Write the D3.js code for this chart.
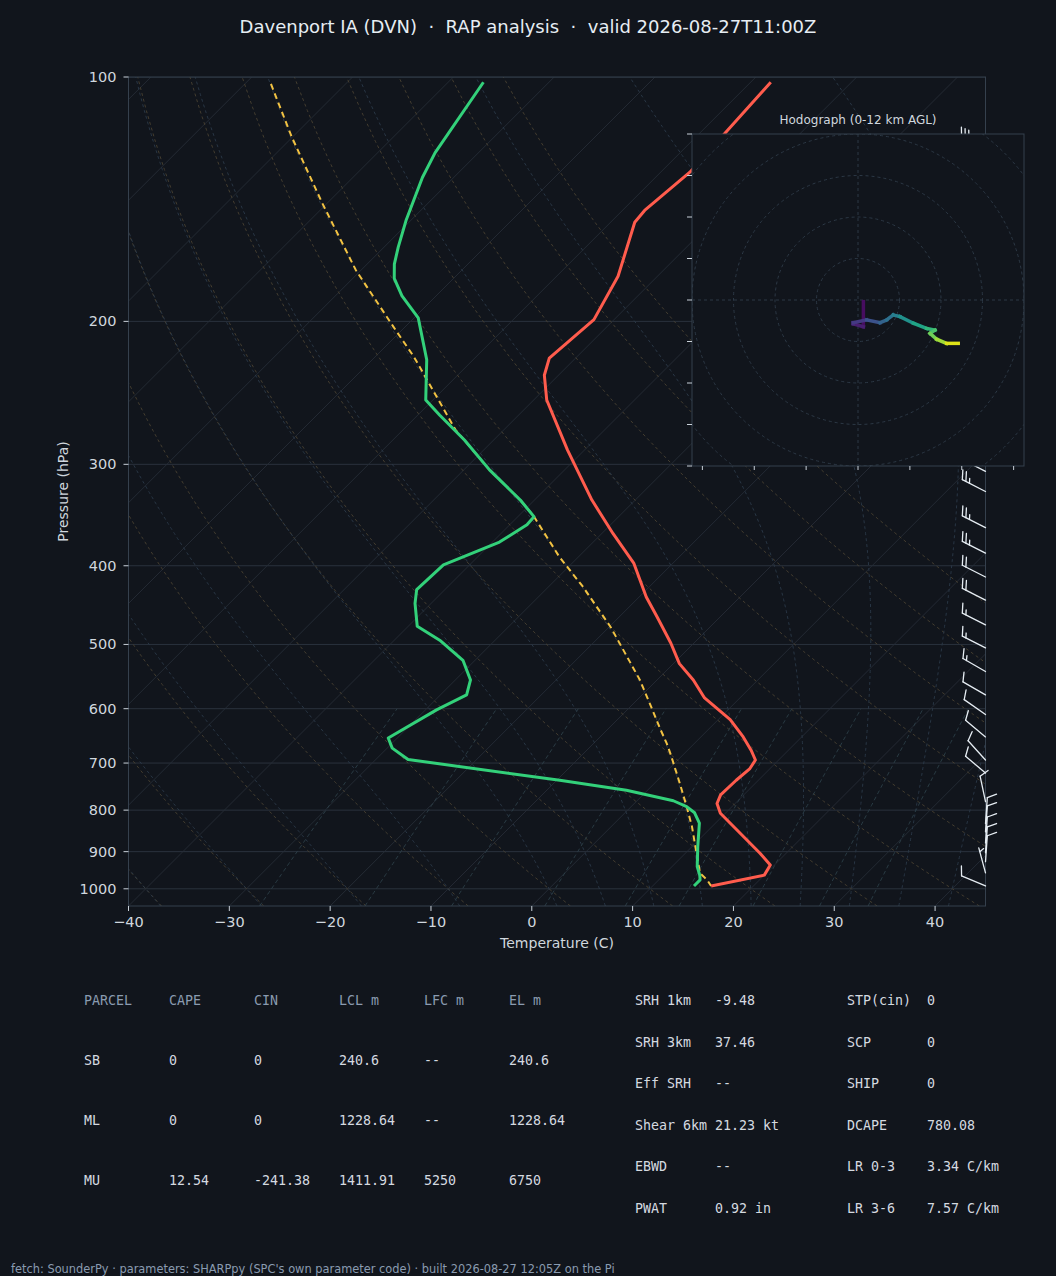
<!DOCTYPE html>
<html>
<head>
<meta charset="utf-8">
<script src="https://cdn.jsdelivr.net/npm/d3@7"></script>
<style>
html, body { margin: 0; padding: 0; background: #11151c; }
svg { display: block; }
text { font-family: "DejaVu Sans", sans-serif; }
.mono { font-family: "DejaVu Sans Mono", monospace; }
</style>
</head>
<body>
<script>
var w = 1056;
var h = 1276;

// temperature profile (hPa, C)
var tempP = [101.5, 131, 146, 151, 176, 199, 222, 233, 250, 288, 332, 365, 397, 437, 462, 498, 528, 553, 582, 619, 650, 675, 694, 711, 735, 766, 785, 807, 904, 935, 962, 992];
var tempC = [-58.0, -57.1, -57.8, -57.6, -53.9, -52.0, -52.6, -51.4, -48.7, -41.7, -34.3, -28.9, -23.9, -19.3, -16.3, -12.3, -9.4, -6.4, -3.5, 1.2, 4.2, 6.3, 7.7, 8.0, 7.8, 7.7, 8.2, 9.5, 17.4, 19.6, 20.0, 15.8];

// dewpoint profile
var dewP = [101.5, 124, 133, 150, 162, 170, 177, 186, 198, 223, 250, 261, 280, 305, 332, 348, 356, 374, 399, 428, 445, 475, 494, 523, 553, 577, 602, 652, 671, 693, 735, 756, 779, 792, 806, 830, 888, 939, 962, 975, 992];
var dewC = [-86.5, -84.3, -83.1, -80.5, -78.6, -77.3, -75.9, -73.4, -69.6, -64.6, -60.7, -57.8, -52.9, -47.4, -41.4, -38.4, -38.3, -39.3, -42.6, -42.8, -41.6, -39.1, -35.5, -31.2, -28.5, -27.4, -28.9, -30.9, -29.5, -26.8, -9.7, -2.1, 3.6, 5.5, 6.9, 8.4, 10.6, 12.5, 13.6, 14.1, 14.1];

// surface parcel path
var parcelP = [102, 118.5, 143, 173, 203, 221, 272, 305, 332, 348, 390, 424.5, 475.5, 533, 553, 597, 637, 662, 681, 738, 792, 838, 904, 957, 975, 992];
var parcelC = [-107.4, -100.1, -90.5, -80.5, -71.2, -66.2, -54.8, -47.4, -41.4, -38.4, -31.9, -26.6, -19.9, -13.7, -11.7, -7.9, -4.7, -2.75, -1.4, 2.3, 5.5, 8.0, 11.1, 13.45, 14.8, 15.8];

// wind barbs (hPa, direction deg, speed kt)
var barbP = [992, 956, 926, 903, 878, 851, 831, 781, 720, 694, 650, 610, 577, 540, 505, 473, 441, 413, 386, 359, 324, 306, 290, 271, 254, 238, 222, 208, 194, 182, 170, 159, 149, 139, 130, 122];
var barbDir = [293, 345, 4, 4, 4, 4, 4, 348, 310, 318, 310, 305, 300, 300, 297, 297, 297, 297, 297, 297, 297, 297, 296, 296, 295, 295, 295, 295, 294, 294, 294, 294, 293, 293, 293, 293];
var barbSpd = [10, 5, 10, 10, 10, 10, 10, 10, 10, 10, 10, 10, 10, 15, 15, 15, 20, 20, 25, 25, 25, 25, 25, 30, 30, 30, 30, 30, 30, 30, 30, 30, 30, 30, 30, 30];

// hodograph (kt, height km AGL)
var hodoU = [2.6, 2.6, -2.3, -2.3, 4.2, 10.6, 13.8, 17.0, 20.2, 26.7, 33.1, 37.1, 34.7, 37.9, 42.7, 48.3];
var hodoV = [-0.8, -12.9, -11.5, -10.9, -9.6, -10.9, -9.6, -7.2, -8.0, -11.2, -13.7, -14.5, -16.1, -18.9, -20.9, -20.9];
var hodoZ = [0, 0.8, 1.2, 1.5, 2.5, 3.5, 4.0, 4.8, 5.5, 6.5, 7.5, 8.3, 9.0, 9.8, 10.8, 12];

var pressureTicks = [100, 200, 300, 400, 500, 600, 700, 800, 900, 1000];
var tempTicks = [-40, -30, -20, -10, 0, 10, 20, 30, 40];

// parameter tables
var tableHead = ["PARCEL", "CAPE", "CIN", "LCL m", "LFC m", "EL m"];
var parcelNames = ["SB", "ML", "MU"];
var capeVals = ["0", "0", "12.54"];
var cinVals = ["0", "0", "-241.38"];
var lclVals = ["240.6", "1228.64", "1411.91"];
var lfcVals = ["--", "--", "5250"];
var elVals = ["240.6", "1228.64", "6750"];
var kinLabels = ["SRH 1km", "SRH 3km", "Eff SRH", "Shear 6km", "EBWD", "PWAT"];
var kinValues = ["-9.48", "37.46", "--", "21.23 kt", "--", "0.92 in"];
var idxLabels = ["STP(cin)", "SCP", "SHIP", "DCAPE", "LR 0-3", "LR 3-6"];
var idxValues = ["0", "0", "0", "780.08", "3.34 C/km", "7.57 C/km"];

var bg = "#11151c";
var pLeft = 128.5, pRight = 985.5, pTop = 77, pBottom = 906;

var svg = d3.select("body").append("svg").attr("width", w).attr("height", h);
svg.append("rect").attr("width", w).attr("height", h).attr("fill", bg);

var xT = d3.scaleLinear().domain([-40, 45]).range([pLeft, pRight]);
var yP = d3.scaleLog().domain([1050, 100]).range([pBottom, pTop]);
// 45 degree skew
function sx(t, p) { return xT(t) + (pBottom - yP(p)); }

svg.append("clipPath").attr("id", "plotclip")
  .append("rect").attr("x", pLeft).attr("y", pTop).attr("width", pRight - pLeft).attr("height", pBottom - pTop);

var plot = svg.append("g").attr("clip-path", "url(#plotclip)");

var skewLine = d3.line().x(function (d) { return sx(d[1], d[0]); }).y(function (d) { return yP(d[0]); });

// isobars
plot.selectAll(".isobar").data(pressureTicks).enter().append("line")
  .attr("x1", pLeft).attr("x2", pRight)
  .attr("y1", function (d) { return yP(d); }).attr("y2", function (d) { return yP(d); })
  .attr("stroke", "#2a323d").attr("stroke-width", 1);

// isotherms
plot.selectAll(".isotherm").data(d3.range(-160, 50, 10)).enter().append("line")
  .attr("x1", function (d) { return sx(d, 1050); }).attr("y1", pBottom)
  .attr("x2", function (d) { return sx(d, 100); }).attr("y2", pTop)
  .attr("stroke", "#262d37").attr("stroke-width", 0.9);

var levels = d3.range(1050, 99, -10);

// dry adiabats
d3.range(-40, 91, 10).forEach(function (t0) {
  var pts = levels.map(function (p) { return [p, (t0 + 273.15) * Math.pow(p / 1000, 0.2857) - 273.15]; });
  plot.append("path").attr("d", skewLine(pts)).attr("fill", "none")
    .attr("stroke", "#4a4232").attr("stroke-width", 0.9).attr("stroke-dasharray", "3,3");
});

// moist adiabats
var Rd = 287.04749, Cp = 1004.6662, Lv = 2.50084e6, eps = 0.621957;
function esat(tk) { return 6.112 * Math.exp(17.67 * (tk - 273.15) / (tk - 29.65)); }
function moistLapse(p, tk) {
  var es = esat(tk), rs = eps * es / (p - es);
  return (Rd * tk + Lv * rs) / (Cp + Lv * Lv * rs * eps / (Rd * tk * tk)) / p;
}
function integrate(t0, pEnd, dp) {
  var p = 1000, tk = t0 + 273.15, out = [[p, t0]];
  while ((dp < 0 && p > pEnd) || (dp > 0 && p < pEnd)) {
    var k1 = moistLapse(p, tk);
    var k2 = moistLapse(p + dp / 2, tk + k1 * dp / 2);
    var k3 = moistLapse(p + dp / 2, tk + k2 * dp / 2);
    var k4 = moistLapse(p + dp, tk + k3 * dp);
    tk += dp * (k1 + 2 * k2 + 2 * k3 + k4) / 6;
    p += dp;
    out.push([p, tk - 273.15]);
  }
  return out;
}
var moistStarts = d3.range(-40, 0, 10).concat(d3.range(0, 46, 5));
moistStarts.forEach(function (t0) {
  var pts = integrate(t0, 1050, 5).reverse().concat(integrate(t0, 100, -5).slice(1));
  plot.append("path").attr("d", skewLine(pts)).attr("fill", "none")
    .attr("stroke", "#2b3a4a").attr("stroke-width", 0.9).attr("stroke-dasharray", "3,3");
});

// mixing ratio lines (g/kg)
[0.4, 1, 2, 4, 7, 10, 16, 24, 32].forEach(function (wg) {
  var wk = wg / 1000;
  var pts = d3.range(1050, 599, -10).map(function (p) {
    var e = wk * p / (eps + wk), l = Math.log(e / 6.112);
    return [p, 243.5 * l / (17.67 - l)];
  });
  plot.append("path").attr("d", skewLine(pts)).attr("fill", "none")
    .attr("stroke", "#2c4048").attr("stroke-width", 0.9).attr("stroke-dasharray", "4,3");
});

// profiles
var tempData = tempP.map(function (p, i) { return [p, tempC[i]]; });
var dewData = dewP.map(function (p, i) { return [p, dewC[i]]; });
var parcelData = parcelP.map(function (p, i) { return [p, parcelC[i]]; });

plot.append("path").attr("d", skewLine(parcelData)).attr("fill", "none")
  .attr("stroke", "#f2c242").attr("stroke-width", 2).attr("stroke-dasharray", "6,4");
plot.append("path").attr("d", skewLine(tempData)).attr("fill", "none")
  .attr("stroke", "#ff5c4d").attr("stroke-width", 3).attr("stroke-linejoin", "round");
plot.append("path").attr("d", skewLine(dewData)).attr("fill", "none")
  .attr("stroke", "#33d17a").attr("stroke-width", 3).attr("stroke-linejoin", "round");

// frame
svg.append("rect").attr("x", pLeft).attr("y", pTop).attr("width", pRight - pLeft).attr("height", pBottom - pTop)
  .attr("fill", "none").attr("stroke", "#35404d").attr("stroke-width", 1);

// axes
var axes = svg.append("g");
pressureTicks.forEach(function (p) {
  axes.append("line").attr("x1", pLeft - 5).attr("x2", pLeft).attr("y1", yP(p)).attr("y2", yP(p))
    .attr("stroke", "#c9d1d9").attr("stroke-width", 1);
  axes.append("text").attr("x", pLeft - 12).attr("y", yP(p) + 5).attr("text-anchor", "end")
    .attr("font-size", "14.5px").attr("fill", "#d0d7de").text(p);
});
var fmt = d3.format("d");
tempTicks.forEach(function (t) {
  axes.append("line").attr("x1", xT(t)).attr("x2", xT(t)).attr("y1", pBottom).attr("y2", pBottom + 5)
    .attr("stroke", "#c9d1d9").attr("stroke-width", 1);
  axes.append("text").attr("x", xT(t)).attr("y", pBottom + 21).attr("text-anchor", "middle")
    .attr("font-size", "14.5px").attr("fill", "#d0d7de").text(fmt(t));
});
svg.append("text").attr("x", (pLeft + pRight) / 2).attr("y", 948).attr("text-anchor", "middle")
  .attr("font-size", "14px").attr("fill", "#d0d7de").text("Temperature (C)");
svg.append("text").attr("transform", "translate(68," + ((pTop + pBottom) / 2) + ") rotate(-90)")
  .attr("text-anchor", "middle").attr("font-size", "14px").attr("fill", "#d0d7de").text("Pressure (hPa)");

// title
svg.append("text").attr("x", w / 2).attr("y", 33).attr("text-anchor", "middle")
  .attr("font-size", "18px").attr("fill", "#e6edf3").style("white-space", "pre")
  .text("Davenport IA (DVN)  \u00b7  RAP analysis  \u00b7  valid 2026-08-27T11:00Z");

// wind barbs along the right edge
var barbs = svg.append("g").attr("stroke", "#e6edf3").attr("stroke-width", 1.3)
  .attr("fill", "none").attr("stroke-linecap", "round");
barbP.forEach(function (p, i) {
  var d = barbDir[i] * Math.PI / 180;
  var spd = Math.round(barbSpd[i] / 5) * 5;
  var bx = pRight, by = yP(p);
  var ux = Math.sin(d), uy = -Math.cos(d); // staff direction (screen)
  var px = Math.cos(d), py = Math.sin(d);  // barb side
  var L = 26;
  var tx = bx + L * ux, ty = by + L * uy;
  barbs.append("line").attr("x1", bx).attr("y1", by).attr("x2", tx).attr("y2", ty);
  var full = Math.floor(spd / 10), half = (spd % 10) >= 5 ? 1 : 0;
  var pos = 0, step = 4;
  if (full === 0 && half) pos = 1;
  for (var k = 0; k < full + half; k++) {
    var len = k < full ? 1 : 0.5;
    var sxp = tx - (pos + k) * step * ux, syp = ty - (pos + k) * step * uy;
    barbs.append("line").attr("x1", sxp).attr("y1", syp)
      .attr("x2", sxp + len * (9 * px + 4 * ux)).attr("y2", syp + len * (9 * py + 4 * uy));
  }
});

// hodograph inset
var hx0 = 692, hx1 = 1024, hy0 = 134, hy1 = 466;
var hu = d3.scaleLinear().domain([-80, 80]).range([hx0, hx1]);
var hv = d3.scaleLinear().domain([-80, 80]).range([hy1, hy0]);
var hodo = svg.append("g");
hodo.append("clipPath").attr("id", "hodoclip")
  .append("rect").attr("x", hx0).attr("y", hy0).attr("width", hx1 - hx0).attr("height", hy1 - hy0);
hodo.append("rect").attr("x", hx0).attr("y", hy0).attr("width", hx1 - hx0).attr("height", hy1 - hy0)
  .attr("fill", bg);
var hin = hodo.append("g").attr("clip-path", "url(#hodoclip)");
[20, 40, 60, 80, 100, 120].forEach(function (r) {
  hin.append("circle").attr("cx", hu(0)).attr("cy", hv(0)).attr("r", hu(r) - hu(0))
    .attr("fill", "none").attr("stroke", "#2c3845").attr("stroke-width", 1).attr("stroke-dasharray", "3,3");
});
hin.append("line").attr("x1", hx0).attr("x2", hx1).attr("y1", hv(0)).attr("y2", hv(0))
  .attr("stroke", "#2c3845").attr("stroke-dasharray", "3,3");
hin.append("line").attr("x1", hu(0)).attr("x2", hu(0)).attr("y1", hy0).attr("y2", hy1)
  .attr("stroke", "#2c3845").attr("stroke-dasharray", "3,3");
for (var i = 0; i < hodoU.length - 1; i++) {
  var zc = (hodoZ[i] + hodoZ[i + 1]) / 2 / 12;
  hin.append("line")
    .attr("x1", hu(hodoU[i])).attr("y1", hv(hodoV[i]))
    .attr("x2", hu(hodoU[i + 1])).attr("y2", hv(hodoV[i + 1]))
    .attr("stroke", d3.interpolateViridis(zc)).attr("stroke-width", 3.5).attr("stroke-linecap", "square");
}
hodo.append("rect").attr("x", hx0).attr("y", hy0).attr("width", hx1 - hx0).attr("height", hy1 - hy0)
  .attr("fill", "none").attr("stroke", "#35404d").attr("stroke-width", 1);
d3.range(-80, 81, 20).forEach(function (v) {
  hodo.append("line").attr("x1", hx0 - 5).attr("x2", hx0).attr("y1", hv(v)).attr("y2", hv(v))
    .attr("stroke", "#c9d1d9").attr("stroke-width", 1);
});
d3.range(-75, 76, 25).forEach(function (u) {
  hodo.append("line").attr("x1", hu(u)).attr("x2", hu(u)).attr("y1", hy1).attr("y2", hy1 + 4)
    .attr("stroke", "#c9d1d9").attr("stroke-width", 1);
});
hodo.append("text").attr("x", (hx0 + hx1) / 2).attr("y", 124).attr("text-anchor", "middle")
  .attr("font-size", "12px").attr("fill", "#d0d7de").text("Hodograph (0-12 km AGL)");

// parameter tables
var colX = [84, 169, 254, 339, 424, 509];
var rowY = [1000, 1060, 1120, 1180];
var tbl = svg.append("g").attr("font-size", "13.3px");
tableHead.forEach(function (t, j) {
  tbl.append("text").attr("class", "mono").attr("x", colX[j]).attr("y", rowY[0] + 5)
    .attr("fill", "#8a9bb0").text(t);
});
var cols = [parcelNames, capeVals, cinVals, lclVals, lfcVals, elVals];
parcelNames.forEach(function (n, r) {
  cols.forEach(function (c, j) {
    tbl.append("text").attr("class", "mono").attr("x", colX[j]).attr("y", rowY[r + 1] + 5)
      .attr("fill", "#d5dae0").text(c[r]);
  });
});
var rY = [1000, 1041.5, 1083, 1124.5, 1166, 1207.5];
kinLabels.forEach(function (t, r) {
  tbl.append("text").attr("class", "mono").attr("x", 635).attr("y", rY[r] + 5).attr("fill", "#d5dae0").text(t);
  tbl.append("text").attr("class", "mono").attr("x", 715).attr("y", rY[r] + 5).attr("fill", "#d5dae0").text(kinValues[r]);
  tbl.append("text").attr("class", "mono").attr("x", 847).attr("y", rY[r] + 5).attr("fill", "#d5dae0").text(idxLabels[r]);
  tbl.append("text").attr("class", "mono").attr("x", 927).attr("y", rY[r] + 5).attr("fill", "#d5dae0").text(idxValues[r]);
});

// footer
svg.append("text").attr("x", 11).attr("y", 1273).attr("font-size", "11.4px").attr("fill", "#8a9bb0")
  .text("fetch: SounderPy \u00b7 parameters: SHARPpy (SPC's own parameter code) \u00b7 built 2026-08-27 12:05Z on the Pi");
</script>
</body>
</html>
